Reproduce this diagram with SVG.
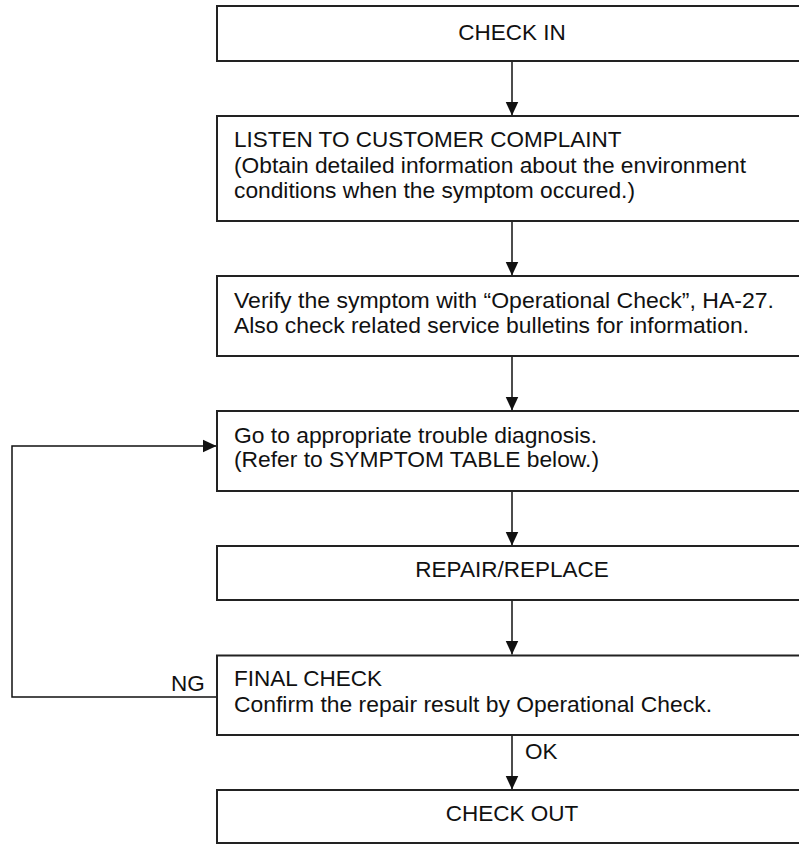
<svg xmlns="http://www.w3.org/2000/svg" width="799" height="844" viewBox="0 0 799 844">
<style>
.box{fill:#fff;stroke:#222;stroke-width:2}
.t{font-family:"Liberation Sans",Arial,sans-serif;font-size:22.5px;fill:#111}
.c{text-anchor:middle}
.ln{fill:none;stroke:#111;stroke-width:1.5}
</style>
<defs>
<marker id="ah" markerUnits="userSpaceOnUse" markerWidth="14" markerHeight="14" viewBox="0 0 14 14" refX="14" refY="7" orient="auto">
<path d="M0,0.5 L14,7 L0,13.5 Z" fill="#111"/>
</marker>
</defs>
<rect width="799" height="844" fill="#fff"/>
<g id="connectors">
<line class="ln" x1="512" y1="61" x2="512" y2="115.5" marker-end="url(#ah)"/>
<line class="ln" x1="512" y1="221" x2="512" y2="275.5" marker-end="url(#ah)"/>
<line class="ln" x1="512" y1="356" x2="512" y2="410.5" marker-end="url(#ah)"/>
<line class="ln" x1="512" y1="491" x2="512" y2="545.5" marker-end="url(#ah)"/>
<line class="ln" x1="512" y1="600" x2="512" y2="654.5" marker-end="url(#ah)"/>
<line class="ln" x1="512" y1="735" x2="512" y2="789.5" marker-end="url(#ah)"/>
<polyline class="ln" points="217,697 12,697 12,446 216.5,446" marker-end="url(#ah)"/>
<text class="t" x="171" y="691">NG</text>
<text class="t" x="525" y="759">OK</text>
</g>
<g id="check-in">
<rect class="box" x="217" y="6" width="600" height="55"/>
<text class="t c" x="512" y="40">CHECK IN</text>
</g>
<g id="listen">
<rect class="box" x="217" y="116" width="600" height="105"/>
<text class="t" x="234" y="147">LISTEN TO CUSTOMER COMPLAINT</text>
<text class="t" x="234" y="172.5" textLength="512" lengthAdjust="spacingAndGlyphs">(Obtain detailed information about the environment</text>
<text class="t" x="234" y="198" textLength="401" lengthAdjust="spacingAndGlyphs">conditions when the symptom occured.)</text>
</g>
<g id="verify">
<rect class="box" x="217" y="276" width="600" height="80"/>
<text class="t" x="234" y="307.5" textLength="540" lengthAdjust="spacingAndGlyphs">Verify the symptom with “Operational Check”, HA-27.</text>
<text class="t" x="234" y="333" textLength="515" lengthAdjust="spacingAndGlyphs">Also check related service bulletins for information.</text>
</g>
<g id="diagnosis">
<rect class="box" x="217" y="411" width="600" height="80"/>
<text class="t" x="234" y="442.5" textLength="363" lengthAdjust="spacingAndGlyphs">Go to appropriate trouble diagnosis.</text>
<text class="t" x="234" y="467" textLength="365" lengthAdjust="spacingAndGlyphs">(Refer to SYMPTOM TABLE below.)</text>
</g>
<g id="repair">
<rect class="box" x="217" y="546" width="600" height="54"/>
<text class="t c" x="512" y="577">REPAIR/REPLACE</text>
</g>
<g id="final-check">
<rect class="box" x="217" y="655.5" width="600" height="79.5"/>
<text class="t" x="234" y="686">FINAL CHECK</text>
<text class="t" x="234" y="712" textLength="478" lengthAdjust="spacingAndGlyphs">Confirm the repair result by Operational Check.</text>
</g>
<g id="check-out">
<rect class="box" x="217" y="790" width="600" height="53"/>
<text class="t c" x="512" y="821">CHECK OUT</text>
</g>
</svg>
